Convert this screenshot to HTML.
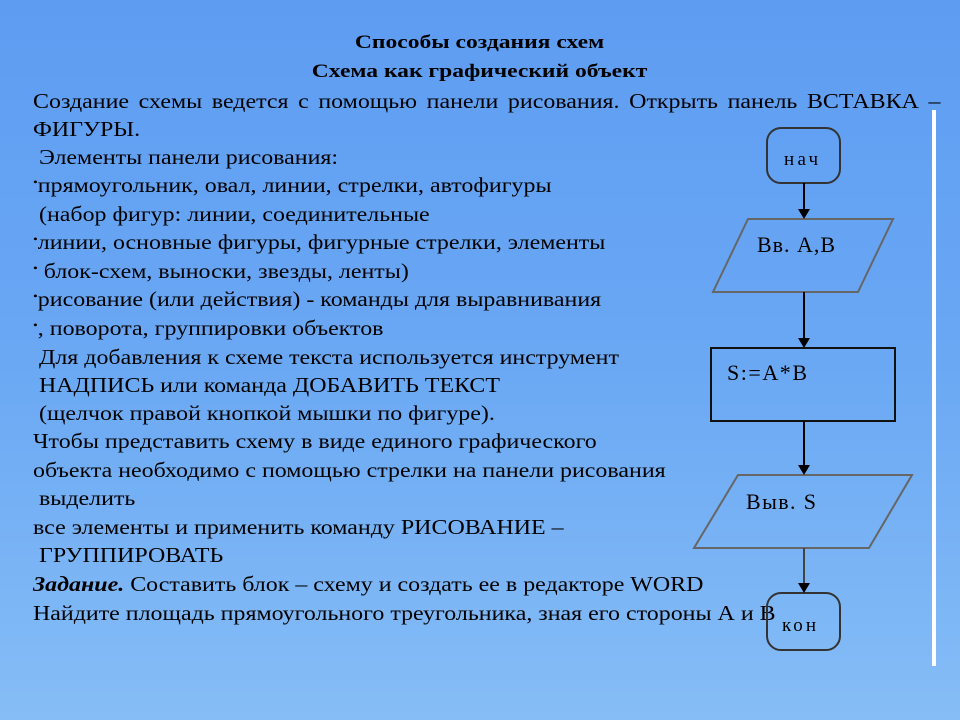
<!DOCTYPE html>
<html><head><meta charset="utf-8"><style>
html,body{margin:0;padding:0}
body{width:960px;height:720px;position:relative;overflow:hidden;
background:linear-gradient(180deg,#5e9cf2 0%,#6aa8f4 50%,#86bdf6 100%);
font-family:"Liberation Serif","Noto Serif CJK SC",serif;color:#000}
.t{position:absolute;font-size:21px;line-height:28px;white-space:nowrap;transform:scaleX(1.14);transform-origin:0 0}
.h{position:absolute;left:0;width:960px;text-align:center;font-weight:bold;font-size:19px;line-height:28px;transform:scaleX(1.24);transform-origin:482px 0}
.j{text-align:justify;text-align-last:justify;width:796px;white-space:normal}
.b{font-size:12px;position:relative;top:-6px}
.bar{position:absolute;left:932px;top:110px;width:4px;height:556px;background:#fff}
</style></head><body>
<div class="h" style="top:29px">Способы создания схем</div>
<div class="h" style="top:58px">Схема как графический объект</div>
<div class="t j" style="left:33px;top:87px">Создание схемы ведется с помощью панели рисования. Открыть панель ВСТАВКА –</div>
<div class="t" style="left:33px;top:115px">ФИГУРЫ.</div>
<div class="t" style="left:33px;top:143px">&nbsp;Элементы панели рисования:</div>
<div class="t" style="left:33px;top:171px"><span class="b">•</span>прямоугольник, овал, линии, стрелки, автофигуры</div>
<div class="t" style="left:33px;top:200px">&nbsp;(набор фигур: линии, соединительные</div>
<div class="t" style="left:33px;top:228px"><span class="b">•</span>линии, основные фигуры, фигурные стрелки, элементы</div>
<div class="t" style="left:33px;top:257px"><span class="b">•</span> блок-схем, выноски, звезды, ленты)</div>
<div class="t" style="left:33px;top:285px"><span class="b">•</span>рисование (или действия) - команды для выравнивания</div>
<div class="t" style="left:33px;top:314px"><span class="b">•</span>, поворота, группировки объектов</div>
<div class="t" style="left:33px;top:343px">&nbsp;Для добавления к схеме текста используется инструмент</div>
<div class="t" style="left:33px;top:371px">&nbsp;НАДПИСЬ или команда ДОБАВИТЬ ТЕКСТ</div>
<div class="t" style="left:33px;top:399px">&nbsp;(щелчок правой кнопкой мышки по фигуре).</div>
<div class="t" style="left:33px;top:427px">Чтобы представить схему в виде единого графического</div>
<div class="t" style="left:33px;top:456px">объекта необходимо с помощью стрелки на панели рисования</div>
<div class="t" style="left:33px;top:484px">&nbsp;выделить</div>
<div class="t" style="left:33px;top:513px">все элементы и применить команду РИСОВАНИЕ –</div>
<div class="t" style="left:33px;top:541px">&nbsp;ГРУППИРОВАТЬ</div>
<div class="t" style="left:33px;top:570px"><b><i>Задание.</i></b> Составить блок – схему и создать ее в редакторе WORD</div>
<div class="t" style="left:33px;top:599px">Найдите площадь прямоугольного треугольника, зная его стороны А и В</div>
<div class="bar"></div>
<svg width="960" height="720" style="position:absolute;left:0;top:0" font-family="Liberation Serif, serif">
<g fill="none" stroke-width="2">
<rect x="767" y="128" width="73" height="55" rx="14" stroke="#333"/>
<polygon points="748,219 893,219 858,292 713,292" stroke="#666"/>
<rect x="711" y="348" width="184" height="73" stroke="#111"/>
<polygon points="738,475 912,475 869,548 694,548" stroke="#666"/>
<rect x="767" y="593" width="73" height="57" rx="14" stroke="#333"/>
<line x1="804" y1="183" x2="804" y2="210" stroke="#000"/>
<line x1="804" y1="292" x2="804" y2="339" stroke="#000"/>
<line x1="804" y1="421" x2="804" y2="466" stroke="#000"/>
<line x1="804" y1="548" x2="804" y2="584" stroke="#444"/>
</g>
<g fill="#000">
<polygon points="798,209 810,209 804,219"/>
<polygon points="798,338 810,338 804,348"/>
<polygon points="798,465 810,465 804,475"/>
<polygon points="798,583 810,583 804,593"/>
</g>
<g font-size="22" fill="#000">
<text x="784" y="165" font-size="19" textLength="34">нач</text>
<text x="757" y="252" textLength="78">Вв. А,В</text>
<text x="727" y="380" textLength="80">S:=A*B</text>
<text x="746" y="509" textLength="70">Выв. S</text>
<text x="782" y="631" font-size="19" textLength="34">кон</text>
</g>
</svg>
</body></html>
